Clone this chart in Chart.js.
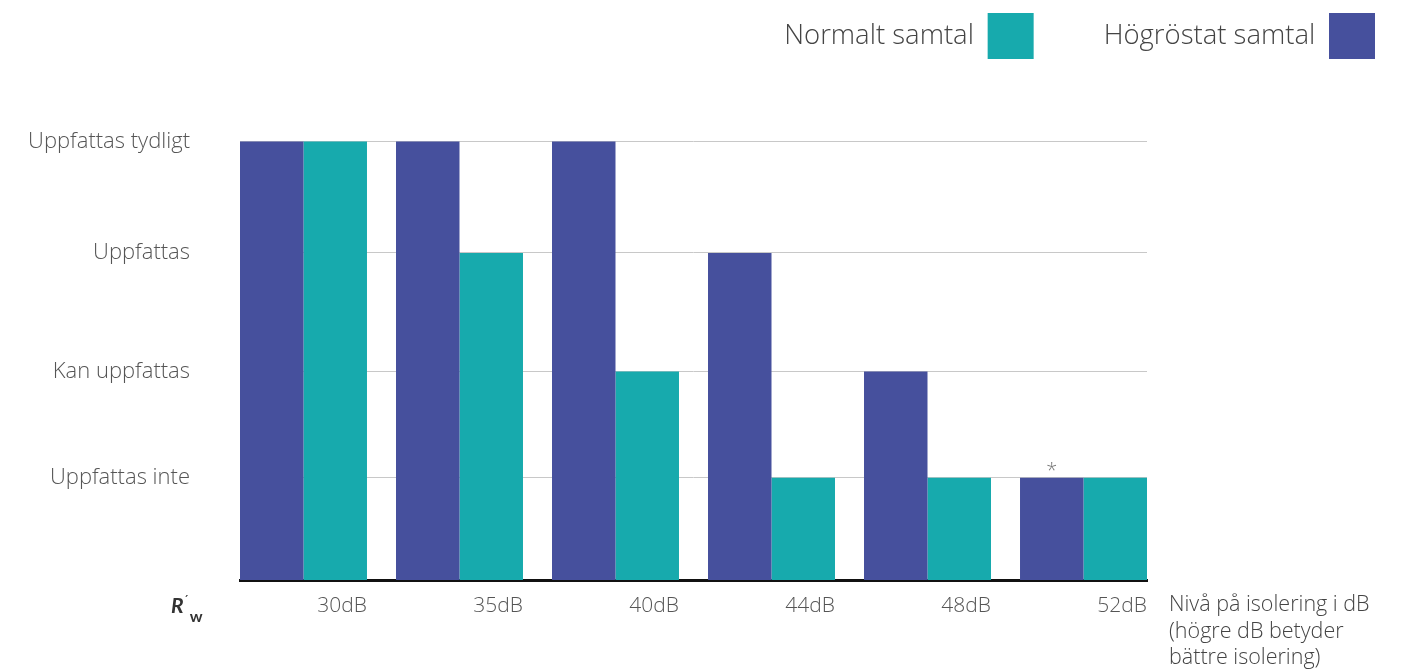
<!DOCTYPE html>
<html>
<head>
<meta charset="utf-8">
<script src="https://cdn.jsdelivr.net/npm/chart.js@4"></script>
<style>
  body { margin: 0; background: #fff; }
  #wrap { position: relative; width: 1402px; height: 669px; }
  #rw { position: absolute; left: 171px; top: 592px; font: italic 700 21px Lato, sans-serif; color: #333; }
  #rw .p { font-size: 13px; font-style: normal; font-weight: 400; position: relative; top: -8px; }
  #rw .w { font-size: 16px; font-style: normal; position: relative; top: 9px; margin-left: 1px; }
  #note { position: absolute; left: 1169px; top: 590px; font: 300 21.5px "Open Sans", sans-serif; line-height: 26.5px; color: #444; }
</style>
</head>
<body>
<div id="wrap">
  <canvas id="chart"></canvas>
  <div id="rw">R<span class="p">´</span><span class="w">w</span></div>
  <div id="note">Nivå på isolering i dB<br>(högre dB betyder<br>bättre isolering)</div>
</div>
<script>
// categories along x, and the four perception levels on y
const categories = ['30dB', '35dB', '40dB', '44dB', '48dB', '52dB'];
const levelLabels = ['Uppfattas inte', 'Kan uppfattas', 'Uppfattas', 'Uppfattas tydligt'];
// height of each level as drawn (levels are not evenly spaced)
const levelValues = [1, 2.04, 3.2, 4.29];

// level index (1..4) per category
const loudLevels = [4, 4, 4, 3, 2, 1];   // Högröstat samtal
const normalLevels = [4, 3, 2, 1, 1, 1]; // Normalt samtal

const PURPLE = '#46509d';
const TEAL = '#17aaad';
const FONT = '"Open Sans", sans-serif';

function toPoints(levels) {
  return levels.map((lv, i) => ({ x: i, y: levelValues[lv - 1] }));
}

// little star above the last purple bar
const starPlugin = {
  id: 'star',
  afterDatasetsDraw(chart) {
    const bar = chart.getDatasetMeta(0).data[5];
    if (!bar) return;
    const ctx = chart.ctx;
    ctx.save();
    ctx.fillStyle = '#777';
    ctx.font = '300 20px ' + FONT;
    ctx.textAlign = 'center';
    ctx.textBaseline = 'middle';
    ctx.fillText('*', bar.x, bar.y - 7);
    ctx.restore();
  }
};

new Chart(document.getElementById('chart'), {
  type: 'bar',
  data: {
    datasets: [
      {
        label: 'Högröstat samtal',
        data: toPoints(loudLevels),
        backgroundColor: PURPLE,
        borderWidth: 0
      },
      {
        label: 'Normalt samtal',
        data: toPoints(normalLevels),
        backgroundColor: TEAL,
        borderWidth: 0
      }
    ]
  },
  options: {
    responsive: true,
    maintainAspectRatio: false,
    animation: false,
    layout: { padding: { top: -57, right: -43, left: 0, bottom: 0 } },
    datasets: {
      bar: { categoryPercentage: 0.814, barPercentage: 1 }
    },
    plugins: {
      tooltip: { enabled: false },
      legend: {
        position: 'top',
        align: 'start',
        rtl: true,
        labels: {
          boxWidth: 46,
          boxHeight: 46,
          padding: 70,
          color: '#444',
          font: { family: FONT, size: 27.5, weight: '300' }
        }
      }
    },
    scales: {
      x: {
        type: 'linear',
        offset: false,
        min: -0.407,
        max: 5.407,
        afterBuildTicks: (scale) => {
          scale.ticks = categories.map((c, i) => ({ value: i }));
        },
        afterFit: (scale) => { scale.height = 89; },
        grid: { display: false, offset: false },
        border: { display: true, color: '#111', width: 3 },
        ticks: {
          callback: (value) => categories[value],
          align: 'end',
          labelOffset: 63.5,
          padding: 5,
          maxRotation: 0,
          color: '#555',
          font: { family: FONT, size: 21, weight: '300' }
        }
      },
      y: {
        min: 0,
        max: 5.0,
        afterBuildTicks: (scale) => {
          scale.ticks = levelValues.map(v => ({ value: v }));
        },
        afterFit: (scale) => { scale.width = 240; },
        grid: { color: '#c8c8c8', lineWidth: 1, drawTicks: false },
        border: { display: false },
        ticks: {
          callback: (value) => levelLabels[levelValues.indexOf(value)],
          padding: 50,
          color: '#555',
          font: { family: FONT, size: 22, weight: '300' }
        }
      },
      right: {
        position: 'right',
        afterFit: (scale) => { scale.width = 298; },
        grid: { display: false },
        border: { display: false },
        ticks: { display: false }
      }
    }
  },
  plugins: [starPlugin]
});
</script>
</body>
</html>
